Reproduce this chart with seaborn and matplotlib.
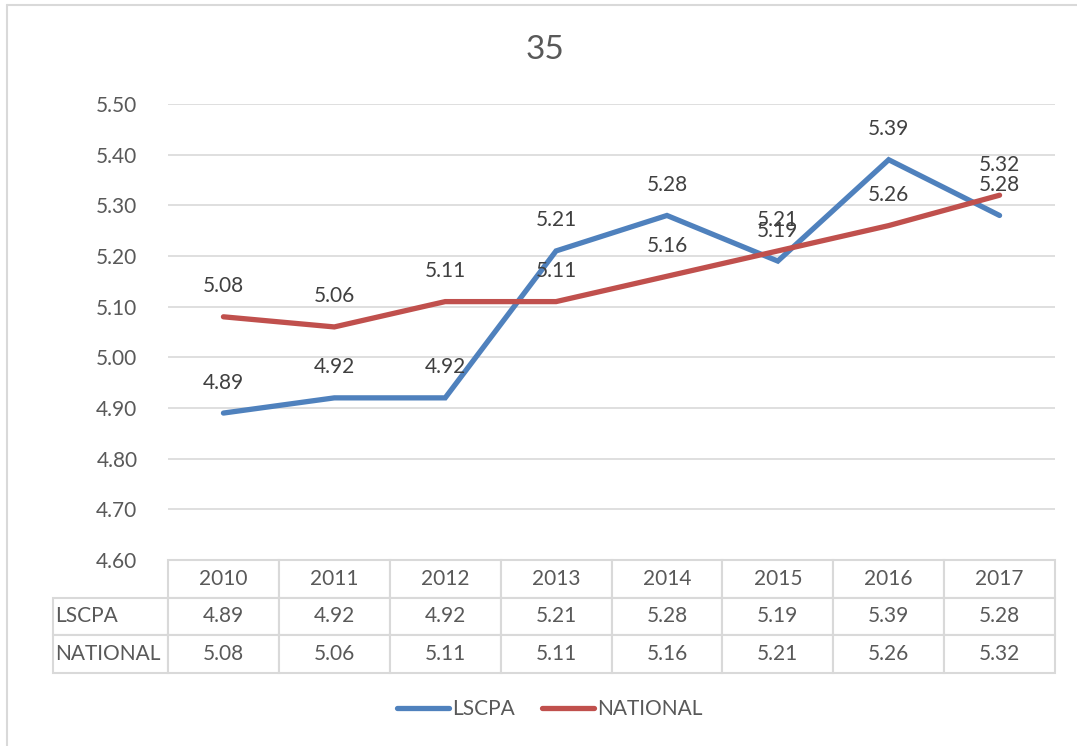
import numpy as np
import pandas as pd
import seaborn as sns
import matplotlib.pyplot as plt
from matplotlib.lines import Line2D

# ---------------- Data ----------------
years = ['2010', '2011', '2012', '2013', '2014', '2015', '2016', '2017']
lscpa = [4.89, 4.92, 4.92, 5.21, 5.28, 5.19, 5.39, 5.28]
national = [5.08, 5.06, 5.11, 5.11, 5.16, 5.21, 5.26, 5.32]
series_names = ['LSCPA', 'NATIONAL']
y_ticks = [4.60, 4.70, 4.80, 4.90, 5.00, 5.10, 5.20, 5.30, 5.40, 5.50]
title = '35'

df = pd.DataFrame({'Year': years * 2,
                   'Series': [series_names[0]] * len(years) + [series_names[1]] * len(years),
                   'Value': lscpa + national})

# ---------------- Style ----------------
sns.set_style('white')
plt.rcParams['font.family'] = ['Lato', 'DejaVu Sans']
text_col = '#595959'
grid_col = '#d9d9d9'
colors = {'LSCPA': '#4f81bd', 'NATIONAL': '#c0504d'}
fs = 15

W, H = 1077, 746
fig = plt.figure(figsize=(W / 100, H / 100), dpi=100)
ax = fig.add_axes([168 / W, 1 - 560 / H, (1055 - 168) / W, (560 - 104) / H])

sns.lineplot(data=df, x='Year', y='Value', hue='Series', palette=colors,
             linewidth=3.8, ax=ax, legend=False, sort=False)
for ln in ax.get_lines():
    ln.set_solid_capstyle('round')
    ln.set_solid_joinstyle('miter')

# data labels above points
for name, vals in zip(series_names, [lscpa, national]):
    for i, v in enumerate(vals):
        ax.annotate(f'{v:.2f}', (i, v), xytext=(0, 22), textcoords='offset points',
                    ha='center', va='center', fontsize=fs, color='#404040')

ax.set_xlim(-0.5, len(years) - 0.5)
ax.set_ylim(y_ticks[0], y_ticks[-1])
ax.set_yticks(y_ticks)
ax.set_yticklabels([f'{t:.2f}' for t in y_ticks], fontsize=fs, color=text_col)
ax.set_xticks([])
ax.set_xlabel('')
ax.set_ylabel('')
ax.tick_params(axis='y', length=0, pad=22)
ax.yaxis.grid(True, color=grid_col, linewidth=1.2)
ax.set_axisbelow(True)
for s in ax.spines.values():
    s.set_visible(False)

# ---------------- Data table ----------------
cell_text = [[series_names[0]] + [f'{v:.2f}' for v in lscpa],
             [series_names[1]] + [f'{v:.2f}' for v in national]]
label_w = 115
col_w = (1055 - 168) / len(years)
widths = [label_w] + [col_w] * len(years)
tbl = ax.table(cellText=cell_text, colLabels=[''] + years, cellLoc='center',
               colWidths=[w / sum(widths) for w in widths],
               bbox=[(53 - 168) / (1055 - 168), (560 - 673) / (560 - 104),
                     (1055 - 53) / (1055 - 168), (673 - 560) / (560 - 104)])
tbl.auto_set_font_size(False)
tbl.set_fontsize(fs)
for (r, c), cell in tbl.get_celld().items():
    cell.set_edgecolor(grid_col)
    cell.set_linewidth(1.5)
    cell.get_text().set_color(text_col)
    if c == 0:
        cell._loc = 'left'
        cell.PAD = 0.02
        cell.get_text().set_ha('left')
        if r == 0:
            cell.visible_edges = ''

# ---------------- Title, legend, border ----------------
fig.text(545 / W, 1 - 50 / H, title, ha='center', va='center', fontsize=24, color=text_col)

handles = [Line2D([], [], color=colors[n], linewidth=3.8, solid_capstyle='round') for n in series_names]
leg = fig.legend(handles, series_names, loc='center', bbox_to_anchor=(550 / W, 1 - 709 / H),
                 ncol=2, frameon=False, fontsize=fs, handlelength=2.5, handletextpad=0.15,
                 columnspacing=1.3)
for t in leg.get_texts():
    t.set_color(text_col)

fig.add_artist(Line2D([7 / W, 7 / W], [0, 1 - 5 / H], color=grid_col, linewidth=1.5))
fig.add_artist(Line2D([7 / W, 1], [1 - 5 / H, 1 - 5 / H], color=grid_col, linewidth=1.5))

fig.savefig('out.png', dpi=100, facecolor='white')
